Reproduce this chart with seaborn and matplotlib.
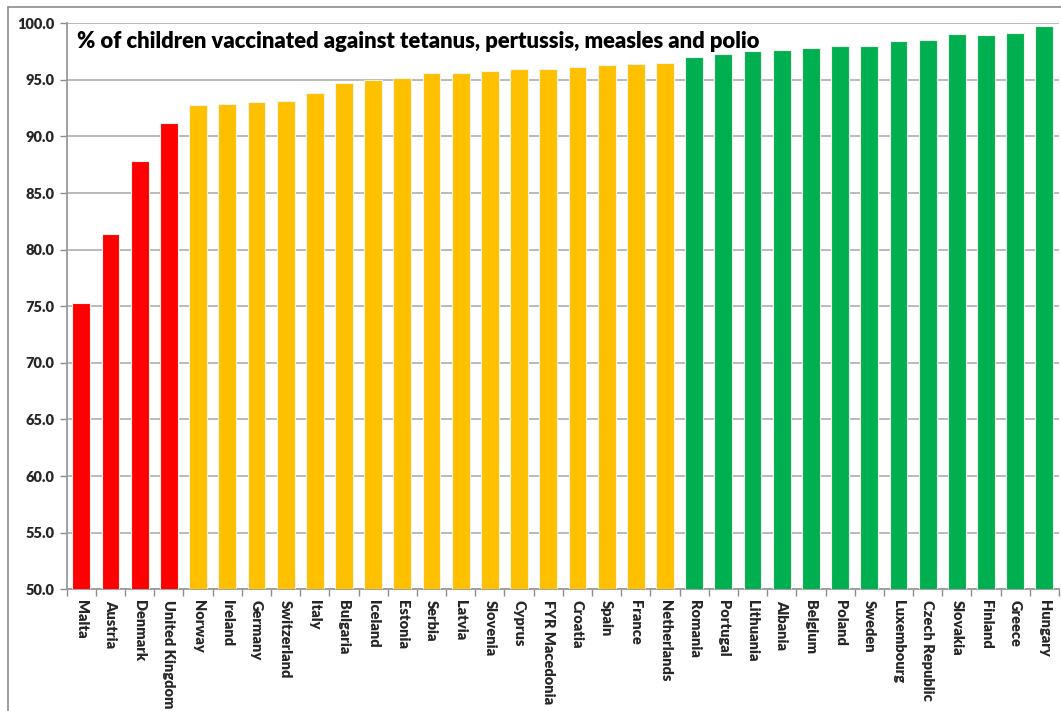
import matplotlib
matplotlib.use("Agg")
import matplotlib.pyplot as plt
import seaborn as sns
import pandas as pd
from matplotlib.lines import Line2D

countries = [
    "Malta", "Austria", "Denmark", "United Kingdom", "Norway", "Ireland",
    "Germany", "Switzerland", "Italy", "Bulgaria", "Iceland", "Estonia",
    "Serbia", "Latvia", "Slovenia", "Cyprus", "FYR Macedonia", "Croatia",
    "Spain", "France", "Netherlands", "Romania", "Portugal", "Lithuania",
    "Albania", "Belgium", "Poland", "Sweden", "Luxembourg", "Czech Republic",
    "Slovakia", "Finland", "Greece", "Hungary",
]
vaccinated = [
    75.3, 81.4, 87.8, 91.2, 92.8, 92.9,
    93.0, 93.1, 93.8, 94.7, 95.0, 95.2,
    95.6, 95.6, 95.8, 96.0, 96.0, 96.1,
    96.3, 96.4, 96.5, 97.0, 97.3, 97.55,
    97.6, 97.8, 98.0, 98.0, 98.4, 98.5,
    99.05, 99.0, 99.1, 99.8,
]
group = ["low"] * 4 + ["mid"] * 17 + ["high"] * 13

TITLE = "% of children vaccinated against tetanus, pertussis, measles and polio"

df = pd.DataFrame({"country": countries, "value": vaccinated, "group": group})
palette = {"low": "#FF0000", "mid": "#FFC000", "high": "#00B050"}

sns.set_style("white")
plt.rcParams["font.family"] = ["Lato", "DejaVu Sans"]

fig = plt.figure(figsize=(10.61, 7.11), dpi=100)
ax = fig.add_axes([0.0629, 0.1712, 0.9352, 0.7961])

sns.barplot(
    data=df, x="country", y="value", hue="group", palette=palette,
    dodge=False, width=0.61, legend=False, ax=ax, saturation=1,
    edgecolor="#eef4ea", linewidth=0.8, zorder=3,
)

ax.set_ylim(50, 100)
ax.set_xlim(-0.5, len(countries) - 0.5)
ax.set_yticks(range(50, 101, 5))
ax.set_yticklabels([f"{v:.1f}" for v in range(50, 101, 5)],
                   fontsize=10.5, fontweight="heavy")
ax.set_xticks(range(len(countries)))
ax.set_xticklabels(countries, rotation=-90, fontsize=10.5, fontweight="heavy",
                   va="top", ha="center")
ax.tick_params(axis="x", length=0, pad=8)
ax.tick_params(axis="y", length=5, width=1, color="#8c8c8c", pad=4, left=True)

# category boundary ticks on x axis
ax.set_xticks([i - 0.5 for i in range(len(countries) + 1)], minor=True)
ax.tick_params(axis="x", which="minor", length=5, width=1,
               color="#8c8c8c", bottom=True)

ax.grid(axis="y", color="#b4b4b4", linewidth=1.3, zorder=0)
ax.set_axisbelow(True)
for s in ["top", "right"]:
    ax.spines[s].set_visible(False)
for s in ["left", "bottom"]:
    ax.spines[s].set_color("#9a9a9a")
    ax.spines[s].set_linewidth(1.3)

ax.set_xlabel("")
ax.set_ylabel("")
ax.text(0.01, 0.968, TITLE, transform=ax.transAxes, fontsize=15.8,
        fontweight="heavy", ha="left", va="center", color="black", zorder=5)

# chart-area border (left and top)
fig.add_artist(Line2D([8 / 1061, 8 / 1061], [0, 1 - 7 / 711],
                      transform=fig.transFigure, color="#8c8c8c", linewidth=1.2))
fig.add_artist(Line2D([8 / 1061, 1], [1 - 7 / 711, 1 - 7 / 711],
                      transform=fig.transFigure, color="#8c8c8c", linewidth=1.2))

fig.savefig("out.png", dpi=100)
